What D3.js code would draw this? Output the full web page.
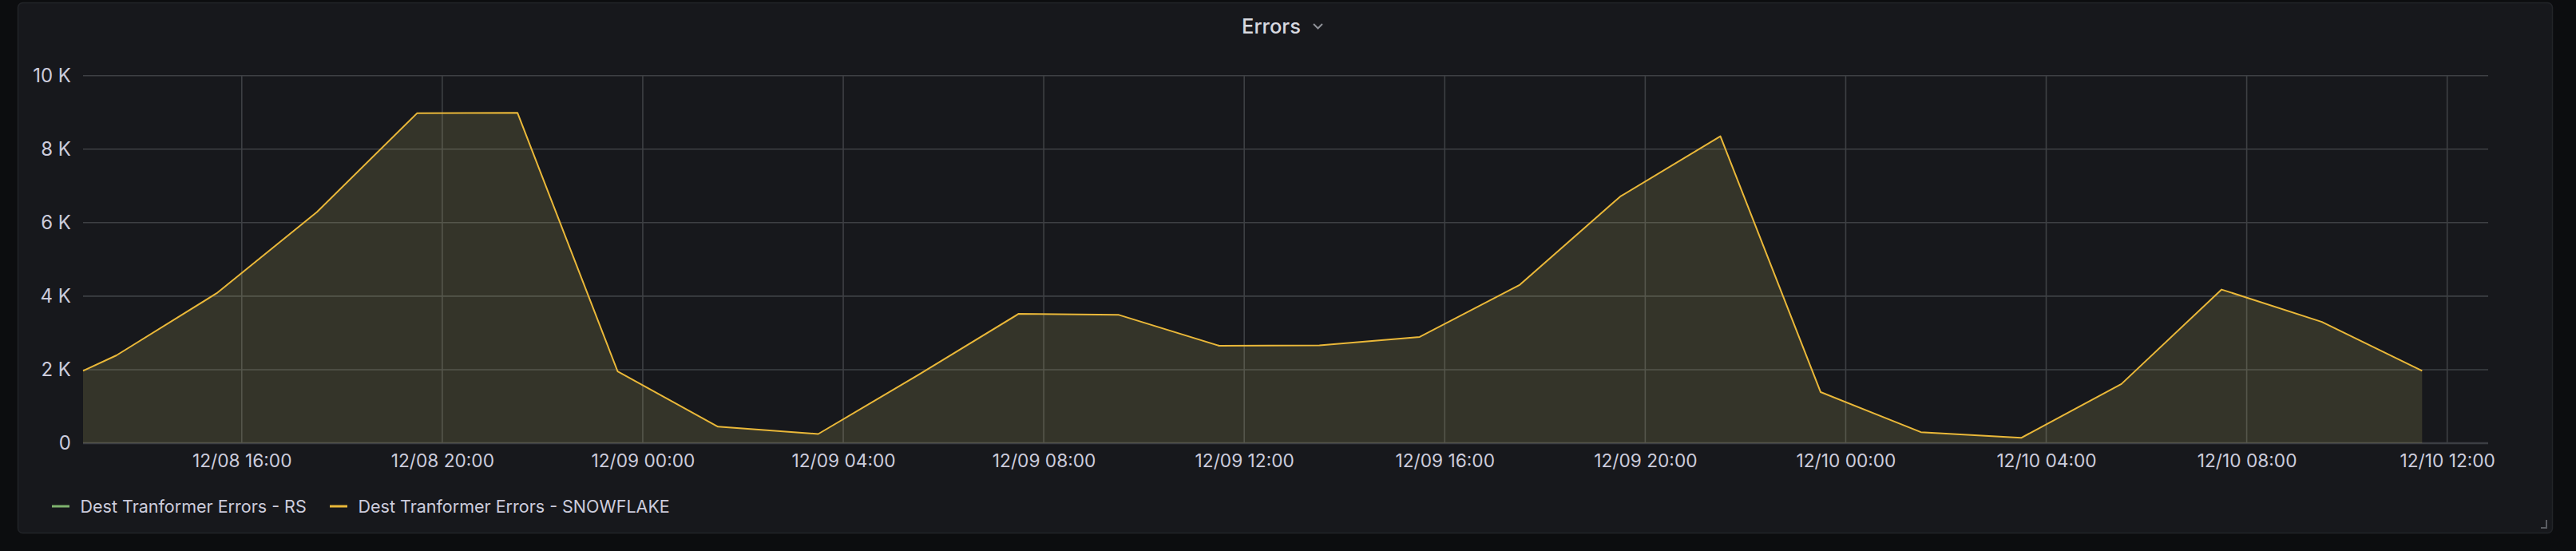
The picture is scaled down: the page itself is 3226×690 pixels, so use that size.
<!DOCTYPE html>
<html>
<head>
<meta charset="utf-8">
<script src="https://cdn.jsdelivr.net/npm/d3@7"></script>
<style>
  html, body { margin: 0; padding: 0; background: #0c0d0f; }
  svg { display: block; font-family: Inter, "Noto Sans", sans-serif; }
</style>
</head>
<body>
<svg id="chart" width="3226" height="690"></svg>
<script>
// ---- data ----
const title = "Errors";
const seriesNames = ["Dest Tranformer Errors - RS", "Dest Tranformer Errors - SNOWFLAKE"];
const seriesColors = ["#7eb26d", "#eab839"];
const timeDomain = ["2021-12-08T12:50:00Z", "2021-12-10T12:50:00Z"];
const snowflakeTimes = [
  "2021-12-08T12:50:00Z", "2021-12-08T13:30:00Z", "2021-12-08T15:30:00Z", "2021-12-08T17:30:00Z",
  "2021-12-08T19:30:00Z", "2021-12-08T21:30:00Z", "2021-12-08T23:30:00Z",
  "2021-12-09T01:30:00Z", "2021-12-09T03:30:00Z", "2021-12-09T05:30:00Z", "2021-12-09T07:30:00Z",
  "2021-12-09T09:30:00Z", "2021-12-09T11:30:00Z", "2021-12-09T13:30:00Z", "2021-12-09T15:30:00Z",
  "2021-12-09T17:30:00Z", "2021-12-09T19:30:00Z", "2021-12-09T21:30:00Z", "2021-12-09T23:30:00Z",
  "2021-12-10T01:30:00Z", "2021-12-10T03:30:00Z", "2021-12-10T05:30:00Z", "2021-12-10T07:30:00Z",
  "2021-12-10T09:30:00Z", "2021-12-10T11:30:00Z"
];
const snowflakeValues = [
  1970, 2390, 4080, 6290, 8980, 8990, 1950,
  450, 250, 1860, 3520, 3490, 2650, 2660, 2890, 4310, 6710, 8350, 1390,
  300, 145, 1610, 4180, 3300, 1970
];
const rsTimes = [];
const rsValues = [];
const yTicks = [0, 2000, 4000, 6000, 8000, 10000];
const yTickLabels = ["0", "2 K", "4 K", "6 K", "8 K", "10 K"];
const xTicks = [
  "2021-12-08T16:00:00Z", "2021-12-08T20:00:00Z", "2021-12-09T00:00:00Z", "2021-12-09T04:00:00Z",
  "2021-12-09T08:00:00Z", "2021-12-09T12:00:00Z", "2021-12-09T16:00:00Z", "2021-12-09T20:00:00Z",
  "2021-12-10T00:00:00Z", "2021-12-10T04:00:00Z", "2021-12-10T08:00:00Z", "2021-12-10T12:00:00Z"
];

// ---- layout ----
const svg = d3.select("#chart");
const W = 3226, H = 690;
const plot = { left: 104, right: 3117, top: 94.7, bottom: 555 };

svg.append("rect").attr("width", W).attr("height", H).attr("fill", "#0c0d0f");
svg.append("rect")
  .attr("x", 22.5).attr("y", 3.5).attr("width", 3174).attr("height", 664)
  .attr("rx", 6).attr("fill", "#17181c").attr("stroke", "#222428").attr("stroke-width", 1.5);

// title
svg.append("text")
  .attr("x", 1592).attr("y", 42)
  .attr("text-anchor", "middle")
  .attr("fill", "#d8d9e0").attr("font-size", 25.5).attr("font-weight", 500)
  .text(title);
svg.append("path")
  .attr("d", "M1645,30 L1650.5,35.5 L1656,30")
  .attr("fill", "none").attr("stroke", "#8e9097").attr("stroke-width", 2);

const parse = d => new Date(d);
const x = d3.scaleUtc().domain(timeDomain.map(parse)).range([plot.left, plot.right]);
const y = d3.scaleLinear().domain([0, 10000]).range([plot.bottom, plot.top]);

// grid
const grid = svg.append("g");
grid.selectAll("line.h").data(yTicks).join("line")
  .attr("x1", plot.left).attr("x2", plot.right - 1)
  .attr("y1", d => y(d)).attr("y2", d => y(d))
  .attr("stroke", "#3e4044").attr("stroke-width", 1.6);
grid.selectAll("line.v").data(xTicks.map(parse)).join("line")
  .attr("x1", d => x(d)).attr("x2", d => x(d))
  .attr("y1", plot.top).attr("y2", plot.bottom)
  .attr("stroke", "#3e4044").attr("stroke-width", 1.6);

// axis line
svg.append("line")
  .attr("x1", plot.left).attr("x2", plot.right - 1)
  .attr("y1", plot.bottom).attr("y2", plot.bottom)
  .attr("stroke", "#3c3e43").attr("stroke-width", 2.5);

// series
const snow = snowflakeTimes.map((t, i) => ({ t: parse(t), v: snowflakeValues[i] }));
const rs = rsTimes.map((t, i) => ({ t: parse(t), v: rsValues[i] }));

const area = d3.area().x(d => x(d.t)).y0(y(0)).y1(d => y(d.v));
const line = d3.line().x(d => x(d.t)).y(d => y(d.v));

[[rs, seriesColors[0]], [snow, seriesColors[1]]].forEach(([data, col]) => {
  if (!data.length) return;
  svg.append("path").datum(data).attr("d", area)
    .attr("fill", "rgb(224,214,120)").attr("fill-opacity", 0.15);
  svg.append("path").datum(data).attr("d", line)
    .attr("fill", "none").attr("stroke", col).attr("stroke-width", 2)
    .attr("stroke-linejoin", "round");
});

// y axis labels
const yAxis = d3.axisLeft(y).tickValues(yTicks)
  .tickFormat((d, i) => yTickLabels[i]).tickSize(0).tickPadding(0);
const gy = svg.append("g").attr("transform", `translate(89,0)`).call(yAxis);
gy.select(".domain").remove();
gy.selectAll("text").attr("fill", "#ccccdc").attr("font-size", 24)
  .attr("font-family", "Inter, sans-serif");

// x axis labels
const fmt = d3.utcFormat("%m/%d %H:%M");
const xAxis = d3.axisBottom(x).tickValues(xTicks.map(parse)).tickFormat(fmt).tickSize(0).tickPadding(0);
const gx = svg.append("g").attr("transform", `translate(0,568.5)`).call(xAxis);
gx.select(".domain").remove();
gx.selectAll("text").attr("fill", "#ccccdc").attr("font-size", 22.7)
  .attr("font-family", "Inter, sans-serif");

// legend
const legend = svg.append("g").attr("transform", "translate(65,634)");
const legendStarts = [0, 348];
seriesNames.forEach((name, i) => {
  const g = legend.append("g").attr("transform", `translate(${legendStarts[i]},0)`);
  g.append("line").attr("x1", 0).attr("x2", 22).attr("y1", 0).attr("y2", 0)
    .attr("stroke", seriesColors[i]).attr("stroke-width", 3);
  g.append("text").attr("x", 35.5).attr("y", 0).attr("dy", "0.35em")
    .attr("fill", "#ccccdc").attr("font-size", 21.5).text(name);
});

// resize handle
svg.append("path")
  .attr("d", "M3189,651 L3189,661 L3182,661")
  .attr("fill", "none").attr("stroke", "#5a5c62").attr("stroke-width", 2);
</script>
</body>
</html>
